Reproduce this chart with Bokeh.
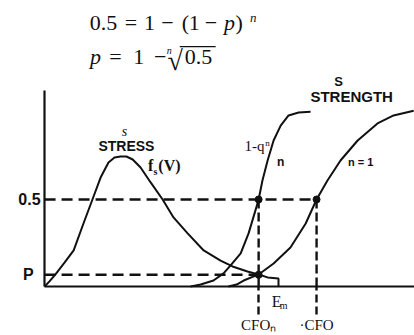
from bokeh.plotting import figure
from bokeh.models import Range1d, LinearAxis, FixedTicker, Label
from bokeh.embed import file_html
from bokeh.resources import INLINE

# Voltage in per-unit of the single-gap CFO, probability on the vertical axis
cfo = 1.0
cfo_n = 0.787
e_m = 0.860
p_fail = 0.067          # p = 1 - 0.5 ** (1 / n) for n = 10 gaps in parallel

# Stress density f_s(V), truncated at E_m
v_stress = [0.000, 0.018, 0.040, 0.074, 0.107, 0.143, 0.176, 0.206, 0.235, 0.257,
            0.279, 0.301, 0.324, 0.353, 0.390, 0.434, 0.474, 0.526, 0.585, 0.647,
            0.691, 0.746, 0.787, 0.820, 0.860, 0.860]
f_stress = [0.000, 0.029, 0.069, 0.138, 0.207, 0.362, 0.500, 0.626, 0.713, 0.741,
            0.747, 0.747, 0.730, 0.684, 0.598, 0.500, 0.397, 0.305, 0.207, 0.149,
            0.115, 0.086, 0.069, 0.052, 0.046, 0.000]

# Strength curve for n gaps, 1 - q^n
v_n = [0.537, 0.574, 0.621, 0.658, 0.684, 0.721, 0.750, 0.772, 0.787, 0.801,
       0.820, 0.842, 0.868, 0.897, 0.934, 0.978]
p_n = [0.000, 0.011, 0.034, 0.075, 0.121, 0.190, 0.305, 0.420, 0.500, 0.609,
       0.724, 0.839, 0.925, 0.983, 1.000, 1.005]

# Strength curve for a single gap, n = 1
v_one = [0.676, 0.706, 0.732, 0.787, 0.842, 0.904, 0.960, 1.000, 1.040, 1.088,
         1.151, 1.224, 1.283, 1.357]
p_one = [0.000, 0.011, 0.034, 0.069, 0.132, 0.224, 0.362, 0.500, 0.609, 0.724,
         0.839, 0.937, 0.983, 1.010]

x_ticks = [cfo_n, cfo]
x_tick_labels = ["CFOₙ", "·CFO"]

INK = "#111111"
SANS = "Liberation Sans"
SERIF = "Liberation Serif"

# The frame fills the canvas; the axes sit at the origin via fixed_location
p = figure(width=414, height=335, output_backend="svg", toolbar_location=None,
           x_range=Range1d(-0.162, 1.360), y_range=Range1d(-0.282, 1.644),
           x_axis_type=None, y_axis_type=None,
           min_border_left=0, min_border_right=0, min_border_top=0, min_border_bottom=0)
p.outline_line_color = None
p.background_fill_color = "white"
p.border_fill_color = "white"


def y_axis(tick, label, standoff, line_color):
    ax = LinearAxis(ticker=FixedTicker(ticks=[tick]), bounds=(0, 1.126), fixed_location=0,
                    major_label_overrides={tick: label},
                    major_tick_out=0, major_tick_in=0,
                    minor_tick_line_color=None,
                    axis_line_width=2.2, axis_line_color=line_color,
                    major_label_standoff=standoff,
                    major_label_text_font=SANS, major_label_text_font_style="bold",
                    major_label_text_font_size="16px", major_label_text_color=INK)
    p.add_layout(ax, "left")


# Vertical axis: only the 0.5 level and the per-gap probability P are marked
y_axis(0.5, "0.5", 4, INK)
y_axis(p_fail, "P", 11, None)

# Horizontal axis: dashed drop lines below the axis come from the ticks
xax = LinearAxis(ticker=FixedTicker(ticks=x_ticks), bounds=(0, 1.36), fixed_location=0,
                 major_label_overrides=dict(zip(x_ticks, x_tick_labels)),
                 major_tick_out=28, major_tick_in=0,
                 major_tick_line_dash="8 4", major_tick_line_width=2.4,
                 major_tick_line_color=INK,
                 minor_tick_line_color=None,
                 axis_line_width=2.2, axis_line_color=INK,
                 major_label_standoff=3,
                 major_label_text_font=SERIF,
                 major_label_text_font_size="15px", major_label_text_color=INK)
p.add_layout(xax, "below")

# Dashed construction lines at 0.5 and at P
p.segment(x0=[0, 0], y0=[0.5, p_fail], x1=[cfo, cfo_n], y1=[0.5, p_fail],
          line_dash="11 6", line_width=2.4, line_color=INK)
p.segment(x0=[cfo_n, cfo], y0=[0.5, 0.5], x1=[cfo_n, cfo], y1=[0, 0],
          line_dash="9 4", line_width=2.4, line_color=INK)

# Curves
p.line(v_stress, f_stress, line_width=2, line_color=INK)
p.line(v_n, p_n, line_width=2, line_color=INK)
p.line(v_one, p_one, line_width=2, line_color=INK)

# Intersection points
p.scatter([cfo_n, cfo_n, cfo], [0.5, p_fail, 0.5], size=7, color=INK)


def add_text(x, y, text, size, font=SANS, style="bold", align="center"):
    p.add_layout(Label(x=x, y=y, text=text, text_font=font, text_font_style=style,
                       text_font_size=f"{size}px", text_align=align,
                       text_baseline="middle", text_color=INK))


# Formula 0.5 = 1 - (1 - p)^n, set piece by piece with math spacing
for xc, s, st in [(0.217, "0.5", "normal"), (0.318, "=", "normal"), (0.386, "1", "normal"),
                  (0.452, "−", "normal"), (0.518, "(", "normal"), (0.550, "1", "normal"),
                  (0.612, "−", "normal"), (0.680, "p", "italic"), (0.715, ")", "normal")]:
    add_text(xc, 1.517, s, 22, SERIF, st)
add_text(0.767, 1.549, "n", 13, SERIF, "italic")

# Formula p = 1 - nth root of 0.5
for xc, s, st in [(0.1875, "p", "italic"), (0.261, "=", "normal"), (0.346, "1", "normal"),
                  (0.425, "−", "normal"), (0.566, "0.5", "normal")]:
    add_text(xc, 1.322, s, 22, SERIF, st)
add_text(0.458, 1.356, "n", 10, SERIF, "italic")
add_text(0.480, 1.300, "√", 28, SERIF, "normal")
p.segment(x0=[0.497], y0=[1.379], x1=[0.629], y1=[1.379], line_width=1.3, line_color=INK)

# Curve labels
add_text(1.081, 1.178, "S", 13)
add_text(1.129, 1.092, "STRENGTH", 15)
add_text(0.294, 0.891, "s", 14, SERIF, "italic")
add_text(0.301, 0.810, "STRESS", 14)
add_text(0.390, 0.695, "f", 16, SERIF, "bold")
add_text(0.408, 0.661, "s", 10, SERIF, "bold")
add_text(0.459, 0.695, "(V)", 16, SERIF, "bold")
add_text(0.772, 0.810, "1-q", 15, SERIF, "normal")
add_text(0.820, 0.822, "n", 9, SERIF, "normal")
add_text(0.868, 0.718, "n", 12)
add_text(1.162, 0.718, "n = 1", 11)
add_text(0.853, -0.086, "E", 16, SERIF, "normal")
add_text(0.879, -0.109, "m", 10, SERIF, "normal")

open("out.html", "w").write(file_html(p, INLINE))
